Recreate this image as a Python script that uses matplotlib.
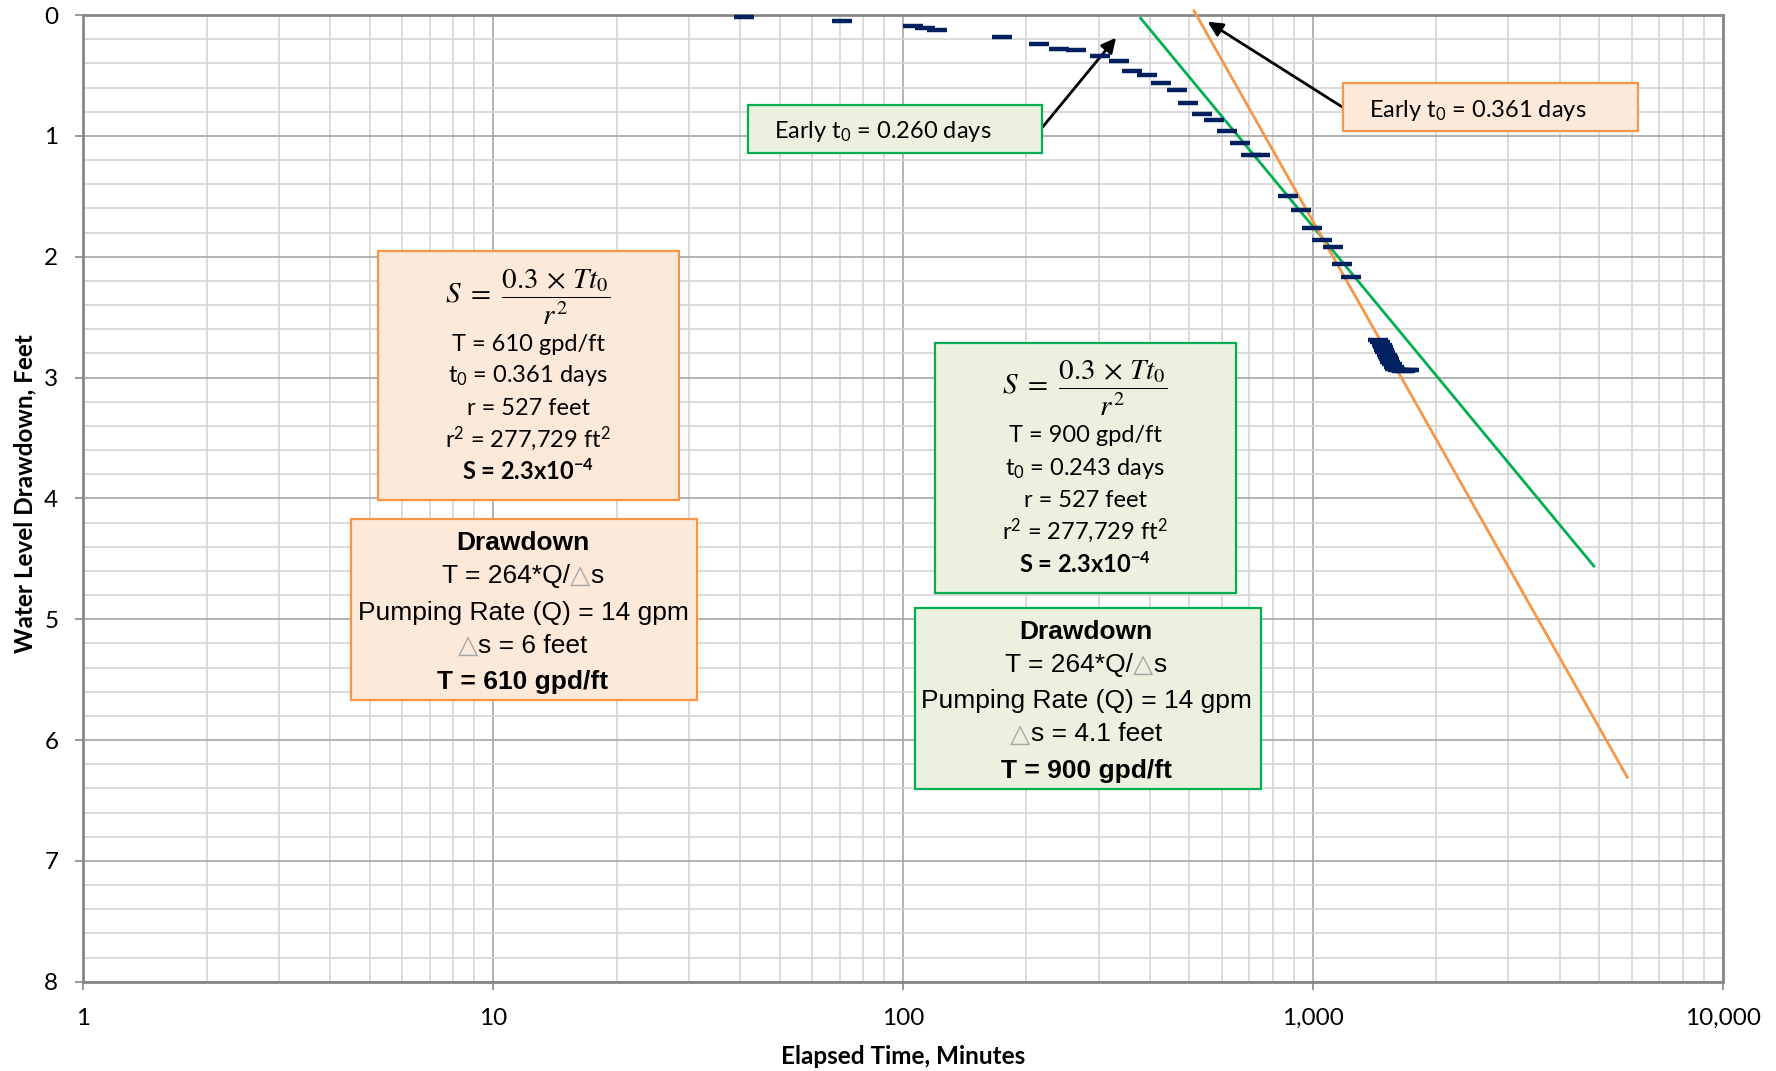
import numpy as np
import matplotlib
matplotlib.use("Agg")
from matplotlib import pyplot as plt
from matplotlib.patches import Rectangle
from matplotlib.ticker import FixedLocator, LogLocator, MultipleLocator, NullFormatter

plt.rcParams['font.family'] = ['Lato', 'DejaVu Sans']
plt.rcParams['mathtext.fontset'] = 'custom'
plt.rcParams['mathtext.rm'] = 'Lato'
plt.rcParams['mathtext.it'] = 'Lato:italic'
plt.rcParams['mathtext.bf'] = 'Lato:bold'

# drawdown record: elapsed minutes vs feet of drawdown
time_min = [41, 71, 106, 113, 121, 174, 215, 240, 264, 303, 336, 363, 394, 427,
            466, 497, 536, 574, 617, 663, 706, 744, 869, 933, 996, 1055, 1119,
            1177, 1238, 1445, 1460, 1473, 1482, 1490, 1500, 1515, 1522, 1530,
            1545, 1560, 1575, 1590, 1610, 1630, 1650, 1680, 1700, 1715]
drawdown_ft = [0.02, 0.05, 0.09, 0.11, 0.12, 0.18, 0.24, 0.28, 0.29, 0.34, 0.38,
               0.46, 0.50, 0.56, 0.62, 0.73, 0.82, 0.87, 0.96, 1.06, 1.16, 1.16,
               1.50, 1.61, 1.76, 1.86, 1.92, 2.06, 2.17, 2.69, 2.71, 2.73, 2.75,
               2.77, 2.79, 2.81, 2.83, 2.85, 2.87, 2.89, 2.91, 2.93, 2.94, 2.94,
               2.95, 2.95, 2.94, 2.94]

# straight-line fits: early t0 (days) and drawdown per log cycle (ft)
green_t0_days = 0.260
green_ds = 4.1
green_t = [380, 4850]
orange_t0_days = 0.361
orange_ds = 6.0
orange_t = [513, 5850]

x_ticks = [1, 10, 100, 1000, 10000]
x_tick_labels = ["1", "10", "100", "1,000", "10,000"]
y_ticks = [0, 1, 2, 3, 4, 5, 6, 7, 8]

W, H = 1776, 1071
fig = plt.figure(figsize=(W / 100, H / 100), dpi=100)
ax = fig.add_axes([83.3 / W, 1 - 981.7 / H, (1722.7 - 83.3) / W, (981.7 - 15) / H])

ax.set_xscale('log')
ax.set_xlim(1, 10000)
ax.set_ylim(8, 0)
ax.xaxis.set_major_locator(FixedLocator(x_ticks))
ax.set_xticklabels(x_tick_labels)
ax.xaxis.set_minor_locator(LogLocator(base=10, subs=np.arange(2, 10)))
ax.xaxis.set_minor_formatter(NullFormatter())
ax.set_yticks(y_ticks)
ax.yaxis.set_minor_locator(MultipleLocator(0.2))

ax.set_axisbelow(True)
ax.grid(which='major', color='#a6a6a6', lw=1.2)
ax.grid(which='minor', color='#d4d4d4', lw=1.2)
for sp in ax.spines.values():
    sp.set_color('#878787')
    sp.set_linewidth(2)
ax.tick_params(which='major', direction='out', length=6, width=1.2, color='#878787',
               labelsize=17.5)
ax.tick_params(axis='x', which='major', pad=13)
ax.tick_params(axis='y', which='major', pad=12)
ax.tick_params(which='minor', length=0)

ax.plot(time_min, drawdown_ft, ls='none', marker='_', ms=13.7, mew=3.2,
        color='#002060', zorder=4, clip_on=False)


def fit_line(t, t0_days, ds):
    t = np.array(t, dtype=float)
    return t, ds * np.log10(t / (t0_days * 1440.0))


gt, gs = fit_line(green_t, green_t0_days, green_ds)
ot, os_ = fit_line(orange_t, orange_t0_days, orange_ds)
ax.plot(gt, gs, color='#00B050', lw=2, zorder=3, clip_on=False)
ax.plot(ot, os_, color='#F79646', lw=2, zorder=3, clip_on=False)

arrow = dict(arrowstyle='-|>', color='black', lw=2, mutation_scale=22,
             shrinkA=0, shrinkB=0)
ax.annotate('', xy=(331, 0.188), xytext=(219, 0.928), arrowprops=arrow,
            annotation_clip=False)
ax.annotate('', xy=(554, 0.056), xytext=(1188, 0.768), arrowprops=arrow,
            annotation_clip=False)

fig.text(903 / W, 1 - 1057 / H, "Elapsed Time, Minutes", ha='center', va='center',
         fontsize=17.5, fontweight='bold')
fig.text(25 / W, 1 - 494 / H, "Water Level Drawdown, Feet", ha='center', va='center',
         rotation=90, fontsize=17.5, fontweight='bold')

GREEN_FC, GREEN_EC = '#EBF1DE', '#00B050'
ORANGE_FC, ORANGE_EC = '#FDE9D9', '#F79646'


def box(x0, y0, x1, y1, fc, ec):
    fig.add_artist(Rectangle((x0 / W, 1 - y1 / H), (x1 - x0) / W, (y1 - y0) / H,
                             transform=fig.transFigure, fc=fc, ec=ec, lw=1.6,
                             zorder=5))


def label(x, y, s, size=17, ha='center', bold=False):
    # y is the middle of the capitals, in pixels from the top
    fig.text(x / W, 1 - (y + 0.358 * size * 100 / 72) / H, s, ha=ha, va='baseline',
             fontsize=size, fontweight='bold' if bold else 'normal', zorder=6)


def formula(x, y):
    fig.text(x / W, 1 - y / H, r"$S\ =\ \dfrac{0.3\,\times\,Tt_0}{r^2}$", ha='center',
             va='center', fontsize=21, math_fontfamily='stix', zorder=6)


rich_lines = []


def rich_line(cx, cy, parts, size=19, bold=False):
    base = 1 - (cy + 0.358 * size * 100 / 72) / H
    items = [fig.text(0, base, s, color=c, fontsize=size, va='baseline', ha='left',
                      fontweight='bold' if bold else 'normal',
                      family=['Liberation Sans', 'DejaVu Sans'], zorder=6)
             for s, c in parts]
    rich_lines.append((cx, items))


TRI = '#a6a6a6'

box(747.7, 105, 1042.3, 152.7, GREEN_FC, GREEN_EC)
label(774, 130, r"Early t$_0$ = 0.260 days", ha='left')
box(1342.7, 82.7, 1637.7, 130.7, ORANGE_FC, ORANGE_EC)
label(1369, 109, r"Early t$_0$ = 0.361 days", ha='left')

# orange (late-data) fit
box(378.3, 250.7, 679, 500, ORANGE_FC, ORANGE_EC)
formula(528, 296.7)
label(528, 342.5, "T = 610 gpd/ft")
label(528, 374, r"t$_0$ = 0.361 days")
label(528, 406.7, "r = 527 feet")
label(528, 438.7, r"r$^2$ = 277,729 ft$^2$")
label(528, 471, r"S = 2.3x10$^{\mathbf{-4}}$", bold=True)

box(351.1, 519.3, 696.7, 700, ORANGE_FC, ORANGE_EC)
rich_line(523, 540.8, [("Drawdown", 'black')], bold=True)
rich_line(523, 573.7, [("T = 264*Q/", 'black'), ("\u25b3", TRI), ("s", 'black')])
rich_line(523, 610.7, [("Pumping Rate (Q) = 14 gpm", 'black')])
rich_line(523, 643.7, [("\u25b3", TRI), ("s = 6 feet", 'black')])
rich_line(523, 679.3, [("T = 610 gpd/ft", 'black')], bold=True)

# green (early-data) fit
box(935, 343.3, 1235.7, 592.7, GREEN_FC, GREEN_EC)
formula(1085, 388.3)
label(1085, 433.8, "T = 900 gpd/ft")
label(1085, 466.7, r"t$_0$ = 0.243 days")
label(1085, 498.3, "r = 527 feet")
label(1085, 530.3, r"r$^2$ = 277,729 ft$^2$")
label(1085, 563.3, r"S = 2.3x10$^{\mathbf{-4}}$", bold=True)

box(915, 607.7, 1260.7, 789, GREEN_FC, GREEN_EC)
rich_line(1086, 630, [("Drawdown", 'black')], bold=True)
rich_line(1086, 662.7, [("T = 264*Q/", 'black'), ("\u25b3", TRI), ("s", 'black')])
rich_line(1086, 699, [("Pumping Rate (Q) = 14 gpm", 'black')])
rich_line(1086, 732, [("\u25b3", TRI), ("s = 4.1 feet", 'black')])
rich_line(1086, 768.7, [("T = 900 gpd/ft", 'black')], bold=True)

# lay out multi-colour lines centred on their boxes
fig.canvas.draw()
renderer = fig.canvas.get_renderer()
for cx, items in rich_lines:
    widths = [t.get_window_extent(renderer).width for t in items]
    x = cx - sum(widths) / 2
    for t, w in zip(items, widths):
        t.set_x(x / W)
        x += w

fig.savefig("out.png", dpi=100)
